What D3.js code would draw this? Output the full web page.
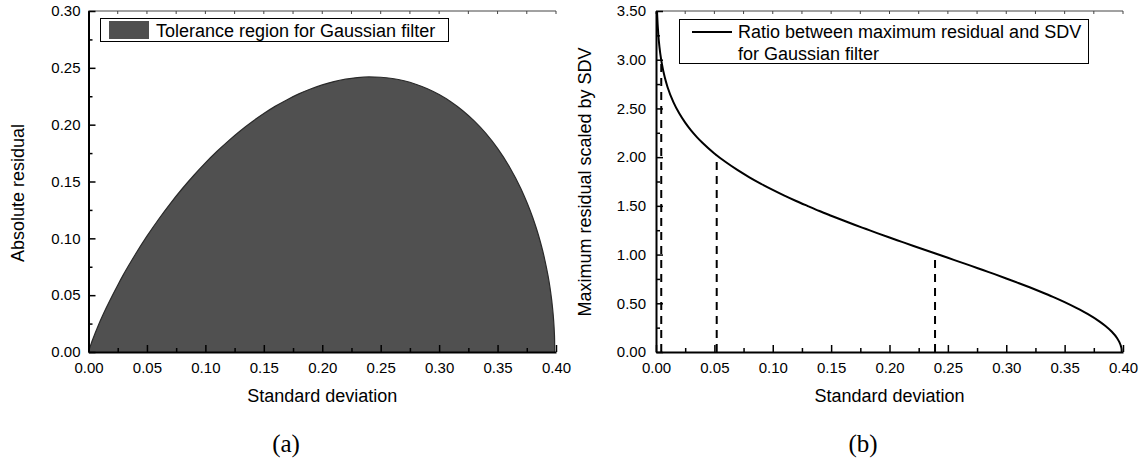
<!DOCTYPE html>
<html>
<head>
<meta charset="utf-8">
<script src="https://cdn.jsdelivr.net/npm/d3@7"></script>
<style>
  html, body { margin: 0; padding: 0; background: #fff; }
  svg { display: block; }
  .tick text { font-family: "Liberation Sans", Arial, sans-serif; font-size: 15px; fill: #000; }
</style>
</head>
<body>
<svg id="chart" width="1145" height="462"></svg>
<script>
// Standard deviation samples and the maximum absolute residual of the Gaussian filter
const sigma = [0, 0.0005, 0.001, 0.002, 0.003, 0.005, 0.0075, 0.01, 0.015, 0.02, 0.025, 0.03, 0.035, 0.04,
  0.05, 0.06, 0.07, 0.08, 0.09, 0.10, 0.11, 0.12, 0.13, 0.14, 0.15, 0.16, 0.17, 0.18, 0.19, 0.20,
  0.21, 0.22, 0.23, 0.24, 0.25, 0.26, 0.27, 0.28, 0.29, 0.30, 0.31, 0.32, 0.33, 0.34, 0.35, 0.36,
  0.37, 0.38, 0.385, 0.39, 0.395, 0.397, 0.398, 0.3985, 0.3988, 0.3989];
const residual = [0, 0.0018, 0.0035, 0.0065, 0.0094, 0.0148, 0.0211, 0.0272, 0.0384, 0.0489, 0.0588, 0.0683, 0.0772, 0.0858,
  0.1019, 0.1168, 0.1306, 0.1434, 0.1553, 0.1664, 0.1766, 0.1860, 0.1947, 0.2026, 0.2098, 0.2163, 0.2220, 0.2271, 0.2314, 0.2350,
  0.2379, 0.2400, 0.2414, 0.2420, 0.2417, 0.2406, 0.2386, 0.2356, 0.2316, 0.2265, 0.2202, 0.2125, 0.2033, 0.1923, 0.1791, 0.1632,
  0.1436, 0.1185, 0.1027, 0.0830, 0.0557, 0.0392, 0.0274, 0.0188, 0.0107, 0];

// Ratio between maximum residual and standard deviation
const sigmaRatio = [0.00087, 0.001, 0.002, 0.003, 0.0044, 0.005, 0.0075, 0.01, 0.015, 0.02, 0.025, 0.03, 0.035, 0.04,
  0.05, 0.06, 0.07, 0.08, 0.09, 0.10, 0.11, 0.12, 0.13, 0.14, 0.15, 0.16, 0.17, 0.18, 0.19, 0.20,
  0.21, 0.22, 0.23, 0.24, 0.25, 0.26, 0.27, 0.28, 0.29, 0.30, 0.31, 0.32, 0.33, 0.34, 0.35, 0.36,
  0.37, 0.38, 0.385, 0.39, 0.395, 0.397, 0.398, 0.3985, 0.3988, 0.3989];
const ratio = [3.50, 3.461, 3.254, 3.127, 3.002, 2.960, 2.819, 2.715, 2.562, 2.447, 2.354, 2.275, 2.206, 2.145,
  2.038, 1.947, 1.866, 1.793, 1.726, 1.664, 1.605, 1.550, 1.498, 1.447, 1.399, 1.352, 1.306, 1.262, 1.218, 1.175,
  1.133, 1.091, 1.050, 1.008, 0.967, 0.925, 0.884, 0.841, 0.799, 0.755, 0.710, 0.664, 0.616, 0.566, 0.512, 0.453,
  0.388, 0.312, 0.267, 0.213, 0.141, 0.099, 0.069, 0.047, 0.027, 0];

// Reference drop lines (ratio 3, 2, 1)
const dropX = [0.0045, 0.052, 0.239];
const dropY = [2.995, 2.02, 1.012];

const xTicks = [0, 0.05, 0.10, 0.15, 0.20, 0.25, 0.30, 0.35, 0.40];
const yTicksA = [0, 0.05, 0.10, 0.15, 0.20, 0.25, 0.30];
const yTicksB = [0, 0.5, 1.0, 1.5, 2.0, 2.5, 3.0, 3.5];

const FONT = '"Liberation Sans", Arial, sans-serif';
const svg = d3.select("#chart");
const plotTop = 11, plotBottom = 352;

function panel(opts) {
  const g = svg.append("g");
  const x = d3.scaleLinear().domain([0, 0.40]).range([opts.left, opts.right]);
  const y = d3.scaleLinear().domain(opts.yDomain).range([plotBottom, plotTop]);

  // top frame line with small ticks
  const topMinor = d3.range(0, 0.4001, 0.025);
  g.append("line").attr("x1", opts.left).attr("x2", opts.right).attr("y1", plotTop).attr("y2", plotTop)
    .attr("stroke", "#444").attr("stroke-width", 1);
  g.selectAll("line.tt").data(topMinor).join("line").attr("class", "tt")
    .attr("x1", d => x(d)).attr("x2", d => x(d)).attr("y1", plotTop).attr("y2", plotTop + 3)
    .attr("stroke", "#444").attr("stroke-width", 1);

  opts.draw(g, x, y);

  // minor ticks
  const xMinor = d3.range(0.025, 0.4, 0.05);
  g.append("g").attr("transform", `translate(0,${plotBottom})`)
    .call(d3.axisBottom(x).tickValues(xMinor).tickSizeInner(-4).tickSizeOuter(0).tickFormat(""))
    .call(s => s.select(".domain").remove())
    .call(s => s.selectAll("line").attr("stroke-width", 1.5));
  g.append("g").attr("transform", `translate(${opts.left},0)`)
    .call(d3.axisLeft(y).tickValues(opts.yMinor).tickSizeInner(-4).tickSizeOuter(0).tickFormat(""))
    .call(s => s.select(".domain").remove())
    .call(s => s.selectAll("line").attr("stroke-width", 1.5));

  // major axes
  g.append("g").attr("transform", `translate(0,${plotBottom})`)
    .call(d3.axisBottom(x).tickValues(xTicks).tickSizeInner(-7).tickSizeOuter(0).tickPadding(10).tickFormat(d3.format(".2f")))
    .call(s => s.select(".domain").attr("stroke-width", 2))
    .call(s => s.selectAll("line").attr("stroke-width", 1.5));
  g.append("g").attr("transform", `translate(${opts.left},0)`)
    .call(d3.axisLeft(y).tickValues(opts.yTicks).tickSizeInner(-7).tickSizeOuter(0).tickPadding(opts.yPad).tickFormat(d3.format(".2f")))
    .call(s => s.select(".domain").attr("stroke-width", 2))
    .call(s => s.selectAll("line").attr("stroke-width", 1.5));

  // axis titles
  g.append("text").attr("x", (opts.left + opts.right) / 2).attr("y", 402)
    .attr("text-anchor", "middle").attr("font-family", FONT).attr("font-size", 18).text("Standard deviation");
  g.append("text").attr("transform", `translate(${opts.yTitleX},${opts.yTitleY}) rotate(-90)`)
    .attr("text-anchor", "middle").attr("font-family", FONT).attr("font-size", 18).text(opts.yTitle);
  // panel caption
  g.append("text").attr("x", opts.capX).attr("y", 452)
    .attr("text-anchor", "middle").attr("font-family", '"Liberation Serif", "Times New Roman", serif')
    .attr("font-size", 25).text(opts.caption);
  return g;
}

// (a) tolerance region
panel({
  left: 88.5, right: 556, yDomain: [0, 0.30], yTicks: yTicksA,
  yMinor: d3.range(0.025, 0.3, 0.05), yPad: 8,
  yTitle: "Absolute residual", yTitleX: 24, yTitleY: 193,
  caption: "(a)", capX: 286,
  draw(g, x, y) {
    const pts = sigma.map((s, i) => [s, residual[i]]);
    const area = d3.area().x(d => x(d[0])).y0(y(0)).y1(d => y(d[1])).curve(d3.curveMonotoneX);
    g.append("path").datum(pts).attr("d", area).attr("fill", "#505050");
    const line = d3.line().x(d => x(d[0])).y(d => y(d[1])).curve(d3.curveMonotoneX);
    g.append("path").datum(pts).attr("d", line).attr("fill", "none").attr("stroke", "#2a2a2a").attr("stroke-width", 1.2);

    // legend
    const lg = g.append("g");
    lg.append("rect").attr("x", 100.5).attr("y", 18.5).attr("width", 348).attr("height", 23)
      .attr("fill", "#fff").attr("stroke", "#000").attr("stroke-width", 1);
    lg.append("rect").attr("x", 109).attr("y", 21).attr("width", 40).attr("height", 18).attr("fill", "#505050");
    lg.append("text").attr("x", 156).attr("y", 36.5).attr("font-family", FONT).attr("font-size", 18)
      .text("Tolerance region for Gaussian filter");
  }
});

// (b) ratio curve
panel({
  left: 656, right: 1123, yDomain: [0, 3.5], yTicks: yTicksB,
  yMinor: d3.range(0.25, 3.5, 0.5), yPad: 10,
  yTitle: "Maximum residual scaled by SDV", yTitleX: 591, yTitleY: 182,
  caption: "(b)", capX: 863,
  draw(g, x, y) {
    const drops = dropX.map((d, i) => [d, dropY[i]]);
    g.selectAll("line.drop").data(drops).join("line").attr("class", "drop")
      .attr("x1", d => x(d[0])).attr("x2", d => x(d[0]))
      .attr("y1", y(0)).attr("y2", d => y(d[1]))
      .attr("stroke", "#000").attr("stroke-width", 2).attr("stroke-dasharray", "8,6");
    const pts = sigmaRatio.map((s, i) => [s, ratio[i]]);
    const line = d3.line().x(d => x(d[0])).y(d => y(d[1])).curve(d3.curveMonotoneX);
    g.append("path").datum(pts).attr("d", line).attr("fill", "none").attr("stroke", "#000").attr("stroke-width", 2);

    // legend
    const lg = g.append("g");
    lg.append("rect").attr("x", 679.5).attr("y", 19.5).attr("width", 409).attr("height", 44)
      .attr("fill", "#fff").attr("stroke", "#000").attr("stroke-width", 1);
    lg.append("line").attr("x1", 692).attr("x2", 732).attr("y1", 32).attr("y2", 32)
      .attr("stroke", "#000").attr("stroke-width", 2);
    lg.append("text").attr("x", 738).attr("y", 37.5).attr("font-family", FONT).attr("font-size", 18)
      .text("Ratio between maximum residual and SDV");
    lg.append("text").attr("x", 738).attr("y", 59.5).attr("font-family", FONT).attr("font-size", 18)
      .text("for Gaussian filter");
  }
});
</script>
</body>
</html>
